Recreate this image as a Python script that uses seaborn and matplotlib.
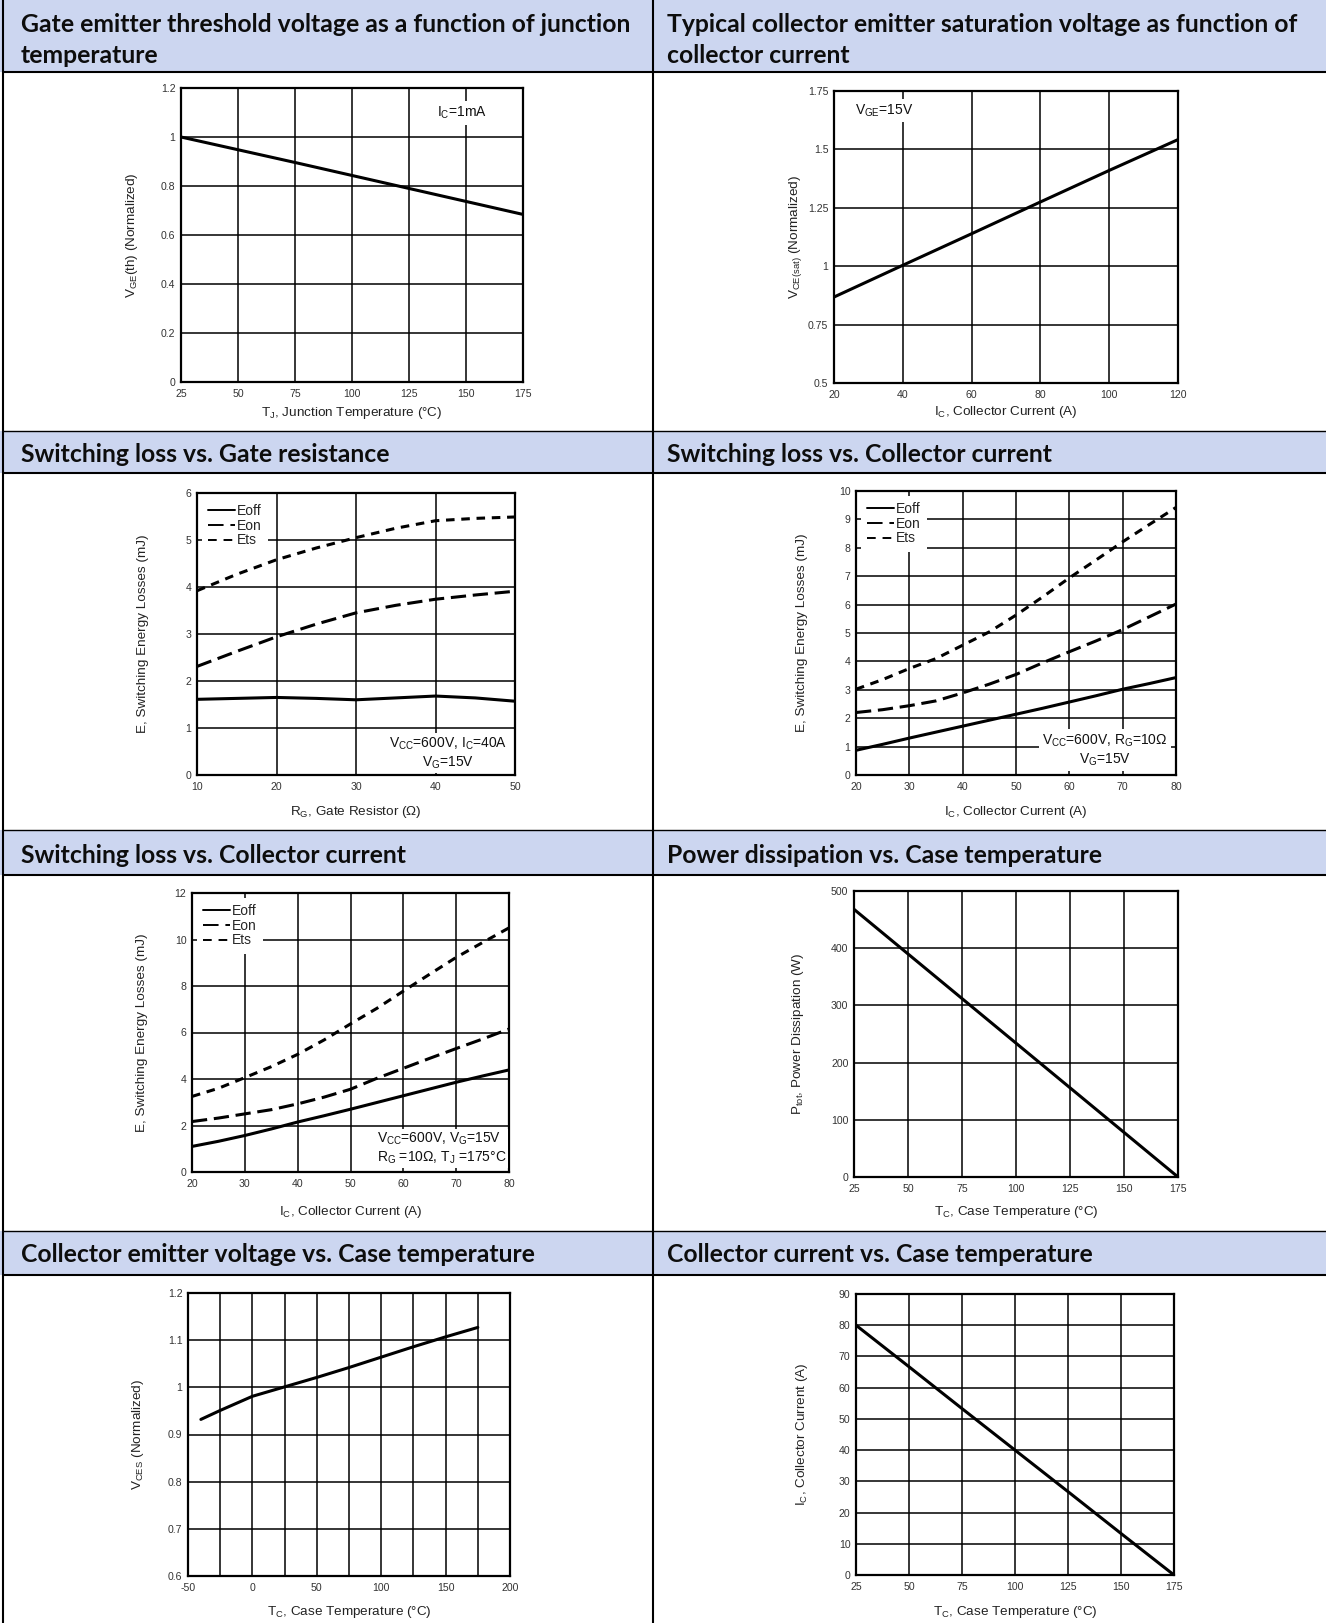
import numpy as np
import pandas as pd
import matplotlib
matplotlib.use("Agg")
import matplotlib.pyplot as plt
import seaborn as sns
from matplotlib.patches import Rectangle
from matplotlib.lines import Line2D
from matplotlib.ticker import FuncFormatter, MultipleLocator

# ---------------- data ----------------
tj_temp = [25, 50, 75, 100, 125, 150, 175]
vge_th_norm = [1.0, 0.948, 0.896, 0.843, 0.790, 0.737, 0.684]

ic_sat = [20, 40, 60, 80, 100, 120]
vce_sat_norm = [0.868, 1.004, 1.139, 1.275, 1.410, 1.542]

rg_ohm = [10, 15, 20, 25, 30, 35, 40, 45, 50]
rg_eoff = [1.61, 1.63, 1.65, 1.63, 1.60, 1.64, 1.68, 1.64, 1.57]
rg_eon = [2.31, 2.63, 2.94, 3.21, 3.45, 3.61, 3.74, 3.83, 3.91]
rg_ets = [3.92, 4.27, 4.58, 4.83, 5.05, 5.25, 5.41, 5.46, 5.49]

ic_sw = [20, 25, 30, 35, 40, 45, 50, 55, 60, 65, 70, 75, 80]
ic_eoff = [0.87, 1.08, 1.30, 1.51, 1.72, 1.93, 2.14, 2.35, 2.57, 2.79, 3.02, 3.22, 3.43]
ic_eon = [2.20, 2.30, 2.44, 2.61, 2.89, 3.20, 3.54, 3.95, 4.34, 4.72, 5.12, 5.57, 6.02]
ic_ets = [3.02, 3.36, 3.75, 4.10, 4.57, 5.04, 5.63, 6.27, 6.94, 7.57, 8.21, 8.82, 9.42]

hot_eoff = [1.10, 1.32, 1.57, 1.85, 2.15, 2.42, 2.70, 2.99, 3.28, 3.57, 3.86, 4.13, 4.39]
hot_eon = [2.17, 2.32, 2.50, 2.68, 2.93, 3.22, 3.56, 4.03, 4.46, 4.89, 5.31, 5.72, 6.15]
hot_ets = [3.25, 3.60, 4.06, 4.53, 5.06, 5.68, 6.37, 7.04, 7.78, 8.51, 9.23, 9.87, 10.50]

tc_pd = [25, 50, 75, 100, 125, 150, 175]
ptot_w = [468, 390, 312, 234, 156, 78, 0]

tc_vces = [-40, -25, 0, 25, 50, 75, 100, 125, 150, 175]
vces_norm = [0.932, 0.951, 0.981, 1.001, 1.021, 1.042, 1.064, 1.086, 1.107, 1.127]

tc_ic = [25, 50, 75, 100, 125, 150, 175]
ic_max = [80, 66.7, 53.3, 40, 26.7, 13.3, 0]

series_names = ["Eoff", "Eon", "Ets"]

titles = [
    ["Gate emitter threshold voltage as a function of junction", "temperature"],
    ["Typical collector emitter saturation voltage as function of", "collector current"],
    ["Switching loss vs. Gate resistance"],
    ["Switching loss vs. Collector current"],
    ["Switching loss vs. Collector current"],
    ["Power dissipation vs. Case temperature"],
    ["Collector emitter voltage vs. Case temperature"],
    ["Collector current vs. Case temperature"],
]

# ---------------- style ----------------
sns.set_theme(style="white")
plt.rcParams["font.family"] = ["Liberation Sans", "DejaVu Sans"]
plt.rcParams["mathtext.fontset"] = "custom"
plt.rcParams["mathtext.rm"] = "Liberation Sans"
plt.rcParams["mathtext.it"] = "Liberation Sans:italic"
plt.rcParams["mathtext.bf"] = "Liberation Sans:bold"

W, H = 1326, 1623
fig = plt.figure(figsize=(W / 100, H / 100), dpi=100)
fig.patch.set_facecolor("white")

BLUE = "#CCD6F0"
headers = [(0, 72), (431, 473), (830, 875), (1231, 1275)]
for (t, b) in headers:
    fig.add_artist(Rectangle((0, 1 - b / H), 1, (b - t) / H, transform=fig.transFigure,
                             facecolor=BLUE, edgecolor="none", zorder=0))


def hline(y, lw):
    fig.add_artist(Line2D([0.002, 1], [1 - y / H] * 2, transform=fig.transFigure, color="black", lw=lw))


def vline(x, lw):
    fig.add_artist(Line2D([x / W] * 2, [0, 1], transform=fig.transFigure, color="black", lw=lw))


for (t, b) in headers:
    if t > 0:
        hline(t, 1.0)
    hline(b, 1.5)
vline(3, 1.5)
vline(653, 1.5)

# header titles
title_pos = [(21, [31.7, 63.3]), (667, [31.7, 63.3]),
             (21, [462]), (667, [462]),
             (21, [863]), (667, [863]),
             (21, [1262]), (667, [1262])]
tfs = 16.5
probe = fig.text(0, 0, titles[0][0], fontsize=tfs, family="Lato", weight="bold")
fig.canvas.draw()
wpx = probe.get_window_extent().width
probe.remove()
tfs = tfs * 609.0 / wpx
for (x, ys), lines in zip(title_pos, titles):
    for y, line in zip(ys, lines):
        fig.text(x / W, 1 - y / H, line, fontsize=tfs, family="Lato", weight="bold",
                 color="#0d0d0d", ha="left", va="baseline")

# ---------------- axes helpers ----------------
def add_ax(rect):
    l, t, r, b = rect
    return fig.add_axes([l / W, 1 - b / H, (r - l) / W, (b - t) / H])


def style_ax(ax, rect, xlim, ylim, xstep, ystep, xlabel, ylabel, xlab_y, ylab_x):
    l, t, r, b = rect
    ax.set_xlim(*xlim)
    ax.set_ylim(*ylim)
    ax.xaxis.set_major_locator(MultipleLocator(xstep))
    ax.yaxis.set_major_locator(MultipleLocator(ystep))
    ax.yaxis.set_major_formatter(FuncFormatter(lambda v, p: f"{round(v, 3):g}"))
    ax.xaxis.set_major_formatter(FuncFormatter(lambda v, p: f"{round(v, 3):g}"))
    ax.grid(True, color="black", lw=1.1)
    ax.set_axisbelow(True)
    for s in ax.spines.values():
        s.set_color("black")
        s.set_linewidth(1.6)
    ax.tick_params(length=0, labelsize=7.6, labelcolor="#333333")
    ax.tick_params(axis="x", pad=5)
    ax.tick_params(axis="y", pad=4)
    ax.set_xlabel(xlabel, fontsize=9.7, color="#222222")
    ax.set_ylabel(ylabel, fontsize=9.7, color="#222222")
    ax.xaxis.label.set_va("center")
    ax.yaxis.label.set_va("center")
    ax.xaxis.set_label_coords(0.5, (b - xlab_y) / (b - t))
    ax.yaxis.set_label_coords((ylab_x - l) / (r - l), 0.5)


LW = 2.2
DASHES = {"Eoff": "", "Eon": (5, 2.2), "Ets": (2.8, 2.2)}


def energy_plot(ax, x, eoff, eon, ets):
    df = pd.DataFrame({
        "x": list(x) * 3,
        "E": list(eoff) + list(eon) + list(ets),
        "series": [n for n in series_names for _ in x],
    })
    sns.lineplot(data=df, x="x", y="E", style="series", style_order=series_names,
                 dashes=DASHES, color="black", lw=LW, ax=ax, legend=False, zorder=3)
    handles = []
    for n in series_names:
        if DASHES[n]:
            handles.append(Line2D([], [], color="black", lw=1.4, dashes=(DASHES[n][0] * 1.6, DASHES[n][1] * 1.6)))
        else:
            handles.append(Line2D([], [], color="black", lw=1.4))
    leg = ax.legend(handles, series_names, loc="upper left", bbox_to_anchor=(0.0, 1.0),
                    fontsize=10, frameon=True, fancybox=False, framealpha=1, edgecolor="white",
                    handlelength=1.9, handletextpad=0.15, labelspacing=0.05, borderpad=0.45,
                    borderaxespad=0.35)
    leg.get_frame().set_linewidth(0)
    leg.set_zorder(5)


def note(ax, x, y, s, ha="center", pad=2.5):
    ax.text(x, y, s, transform=ax.transAxes, fontsize=10, color="#111111", ha=ha, va="center",
            multialignment=ha,
            bbox=dict(facecolor="white", edgecolor="none", pad=pad), zorder=4)


# ---------------- chart 1 ----------------
r1 = (181, 88, 523, 382)
ax = add_ax(r1)
sns.lineplot(x=tj_temp, y=vge_th_norm, color="black", lw=LW, ax=ax)
style_ax(ax, r1, (25, 175), (0, 1.2), 25, 0.2, r"T$_{\rm J}$, Junction Temperature (°C)",
         r"V$_{\rm GE}$(th) (Normalized)", 413, 132)
note(ax, 0.749, 0.915, r"I$_{\rm C}$=1mA", ha="left")

# ---------------- chart 2 ----------------
r2 = (834, 91, 1178, 383)
ax = add_ax(r2)
sns.lineplot(x=ic_sat, y=vce_sat_norm, color="black", lw=LW, ax=ax)
style_ax(ax, r2, (20, 120), (0.5, 1.75), 20, 0.25, r"I$_{\rm C}$, Collector Current (A)",
         r"V$_{\rm CE(sat)}$ (Normalized)", 412, 795)
note(ax, 0.061, 0.933, r"V$_{\rm GE}$=15V", ha="left")

# ---------------- chart 3 ----------------
r3 = (197, 493, 515, 775)
ax = add_ax(r3)
energy_plot(ax, rg_ohm, rg_eoff, rg_eon, rg_ets)
style_ax(ax, r3, (10, 50), (0, 6), 10, 1, r"R$_{\rm G}$, Gate Resistor (Ω)",
         "E, Switching Energy Losses (mJ)", 812, 143)
note(ax, 0.789, 0.078, "V$_{\\rm CC}$=600V, I$_{\\rm C}$=40A\nV$_{\\rm G}$=15V", pad=1.5)

# ---------------- chart 4 ----------------
r4 = (856, 491, 1176, 775)
ax = add_ax(r4)
energy_plot(ax, ic_sw, ic_eoff, ic_eon, ic_ets)
style_ax(ax, r4, (20, 80), (0, 10), 10, 1, r"I$_{\rm C}$, Collector Current (A)",
         "E, Switching Energy Losses (mJ)", 812, 802)
note(ax, 0.778, 0.088, "V$_{\\rm CC}$=600V, R$_{\\rm G}$=10Ω\nV$_{\\rm G}$=15V")

# ---------------- chart 5 ----------------
r5 = (192, 893, 509, 1172)
ax = add_ax(r5)
energy_plot(ax, ic_sw, hot_eoff, hot_eon, hot_ets)
style_ax(ax, r5, (20, 80), (0, 12), 10, 2, r"I$_{\rm C}$, Collector Current (A)",
         "E, Switching Energy Losses (mJ)", 1212, 142)
note(ax, 0.583, 0.085, "V$_{\\rm CC}$=600V, V$_{\\rm G}$=15V\nR$_{\\rm G}$ =10Ω, T$_{\\rm J}$ =175°C",
     ha="left", pad=1.2)

# ---------------- chart 6 ----------------
r6 = (854, 891, 1178, 1177)
ax = add_ax(r6)
sns.lineplot(x=tc_pd, y=ptot_w, color="black", lw=LW, ax=ax)
style_ax(ax, r6, (25, 175), (0, 500), 25, 100, r"T$_{\rm C}$, Case Temperature (°C)",
         r"P$_{\rm tot}$, Power Dissipation (W)", 1212, 798)

# ---------------- chart 7 ----------------
r7 = (188, 1293, 510, 1576)
ax = add_ax(r7)
sns.lineplot(x=tc_vces, y=vces_norm, color="black", lw=LW, ax=ax)
style_ax(ax, r7, (-50, 200), (0.6, 1.2), 25, 0.1, r"T$_{\rm C}$, Case Temperature (°C)",
         r"V$_{\rm CES}$ (Normalized)", 1612, 138)
ax.xaxis.set_major_formatter(FuncFormatter(lambda v, p: f"{v:g}" if round(v) % 50 == 0 else ""))

# ---------------- chart 8 ----------------
r8 = (856, 1294, 1174, 1575)
ax = add_ax(r8)
sns.lineplot(x=tc_ic, y=ic_max, color="black", lw=LW, ax=ax)
style_ax(ax, r8, (25, 175), (0, 90), 25, 10, r"T$_{\rm C}$, Case Temperature (°C)",
         r"I$_{\rm C}$, Collector Current (A)", 1612, 802)

fig.savefig("out.png", dpi=100, facecolor="white")
